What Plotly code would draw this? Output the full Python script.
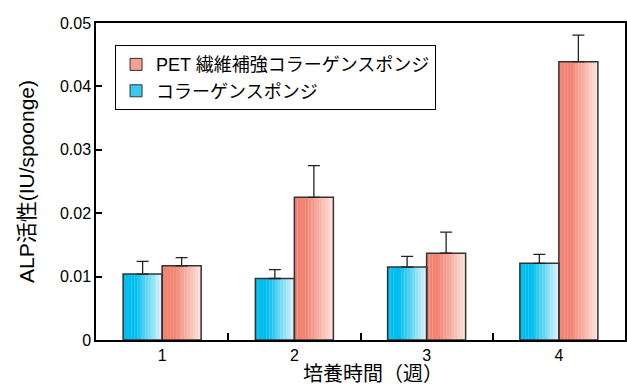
import plotly.graph_objects as go

# データ
weeks = ["1", "2", "3", "4"]
pet_sponge = [0.0117, 0.0225, 0.0137, 0.0439]
pet_err = [0.0013, 0.0050, 0.0033, 0.0042]
col_sponge = [0.0104, 0.0097, 0.0115, 0.0121]
col_err = [0.0020, 0.0014, 0.0017, 0.0014]

pet_name = "PET 繊維補強コラーゲンスポンジ"
col_name = "コラーゲンスポンジ"

FONT = "Arial, Liberation Sans, Noto Sans CJK JP, sans-serif"
BAR_W = 0.295
N_STRIPS = 14


def mix(c1, c2, t):
    return "rgb(%d,%d,%d)" % tuple(round(a + (b - a) * t) for a, b in zip(c1, c2))


def grad_color(left, right, frac, start=0.3):
    t = 0 if frac < start else (frac - start) / (1 - start)
    return mix(left, right, t)


fig = go.Figure()

# gradient fill made of thin overlaid bars
series = [
    (col_sponge, -BAR_W, (0, 190, 238), (226, 244, 252)),
    (pet_sponge, 0.0, (242, 132, 116), (253, 228, 221)),
]
for vals, off, left, right in series:
    sw = BAR_W / N_STRIPS
    for k in range(N_STRIPS):
        fig.add_trace(go.Bar(
            x=weeks, y=vals, offset=off + k * sw, width=sw * 1.08,
            marker=dict(color=grad_color(left, right, (k + 0.5) / N_STRIPS), line=dict(width=0)),
            showlegend=False, hoverinfo="skip",
        ))

# outlines + error bars
for vals, err, off in [(col_sponge, col_err, -BAR_W), (pet_sponge, pet_err, 0.0)]:
    fig.add_trace(go.Bar(
        x=weeks, y=vals, offset=off, width=BAR_W,
        marker=dict(color="rgba(0,0,0,0)", line=dict(color="#333333", width=1.5)),
        error_y=dict(type="data", array=err, symmetric=False, arrayminus=[0] * 4,
                     color="#222222", thickness=1.3, width=6),
        showlegend=False,
    ))

# legend entries
fig.add_trace(go.Bar(x=weeks, y=[None] * 4, name=pet_name,
                     marker=dict(color="rgb(245,160,145)", line=dict(color="#333333", width=1))))
fig.add_trace(go.Bar(x=weeks, y=[None] * 4, name=col_name,
                     marker=dict(color="rgb(60,200,240)", line=dict(color="#333333", width=1))))

fig.update_layout(
    width=627, height=387,
    margin=dict(l=96, r=2, t=23, b=47),
    barmode="overlay",
    plot_bgcolor="white", paper_bgcolor="white",
    font=dict(family=FONT, size=16, color="black"),
    legend=dict(x=0.036, y=0.93, xanchor="left", yanchor="top",
                bordercolor="black", borderwidth=1, bgcolor="white",
                font=dict(size=18), traceorder="normal", tracegroupgap=0,
                itemwidth=30),
    annotations=[dict(text="培養時間（週）", x=0.524, y=-0.108, xref="paper", yref="paper",
                      xanchor="center", yanchor="middle", showarrow=False,
                      font=dict(size=20))],
)
fig.update_xaxes(
    type="category", range=[-0.5, 3.5], automargin=False,
    showline=True, linecolor="black", linewidth=1.5, mirror=True,
    ticks="inside", ticklen=7, tickwidth=1.5, tickcolor="black", tickson="boundaries",
    tickfont=dict(size=16),
)
fig.update_yaxes(
    range=[0, 0.05], dtick=0.01, automargin=False,
    showline=True, linecolor="black", linewidth=1.5, mirror=True,
    ticks="inside", ticklen=6, tickwidth=1.5, tickcolor="black",
    showgrid=False, zeroline=False,
    title=dict(text="ALP活性(IU/spoonge)", font=dict(size=21), standoff=20),
    tickfont=dict(size=16),
)

fig.write_html("out.html", config={"displayModeBar": False},
               post_script="document.body.style.margin='0';document.body.style.overflow='hidden';")
